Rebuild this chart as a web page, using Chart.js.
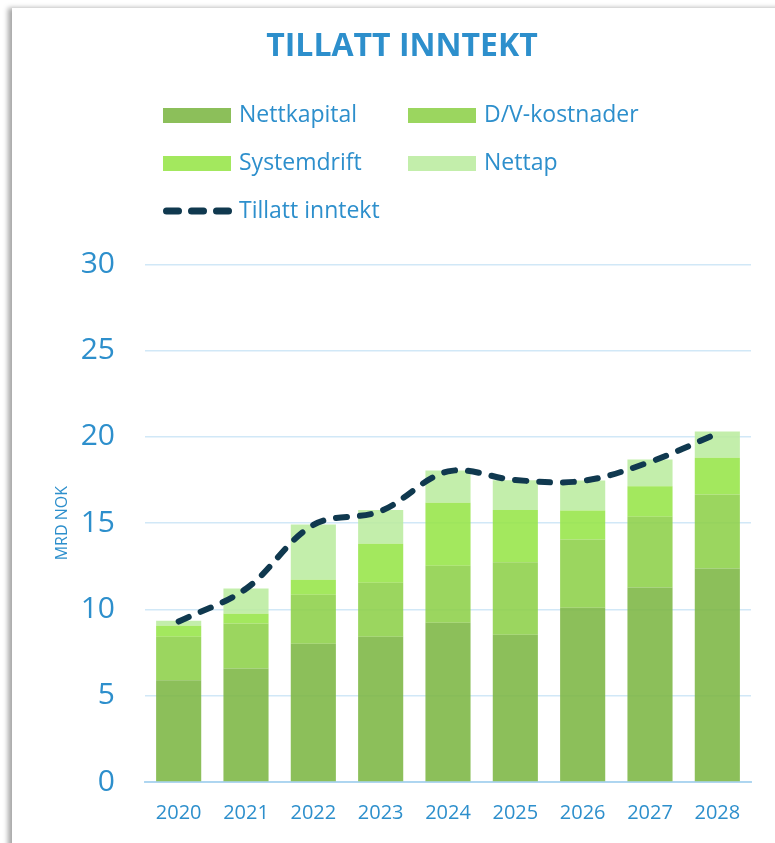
<!DOCTYPE html>
<html>
<head>
<meta charset="utf-8">
<script src="https://cdn.jsdelivr.net/npm/chart.js@4.4.1/dist/chart.umd.min.js"></script>
<style>
  html, body { margin: 0; padding: 0; background: #fff; }
  #card { position: absolute; left: 12px; top: 8px; width: 800px; height: 900px; background: #fff; box-shadow: -4px 0 5px rgba(0,0,0,0.35); }
  #wrap { position: absolute; left: 0; top: 0; width: 775px; height: 843px; }
</style>
</head>
<body>
<div id="card"></div>
<div id="wrap"><canvas id="myChart"></canvas></div>
<script>
const years = ['2020', '2021', '2022', '2023', '2024', '2025', '2026', '2027', '2028'];
const nettkapital = [5.9, 6.58, 8.01, 8.42, 9.23, 8.53, 10.1, 11.28, 12.38];
const dvKostnader = [2.52, 2.61, 2.84, 3.13, 3.31, 4.2, 3.95, 4.1, 4.28];
const systemdrift = [0.63, 0.56, 0.87, 2.26, 3.65, 3.04, 1.68, 1.76, 2.14];
const nettap = [0.29, 1.47, 3.21, 1.96, 1.86, 1.72, 1.74, 1.55, 1.51];
const tillattInntekt = [9.3, 11.2, 14.9, 15.7, 18.0, 17.5, 17.45, 18.55, 20.2];
const yTicks = [0, 5, 10, 15, 20, 25, 30];

const blue = 'rgb(45, 143, 204)';
const navy = '#10394f';

// legend laid out in two columns, like the original
const gridLegend = {
  id: 'gridLegend',
  afterDraw(chart, args, opts) {
    const ctx = chart.ctx;
    ctx.save();
    ctx.font = '23px "Open Sans"';
    ctx.textBaseline = 'middle';
    chart.data.datasets.forEach((ds, i) => {
      const slot = opts.slots[i];
      const x = opts.cols[slot[0]];
      const y = opts.rows[slot[1]];
      if (ds.type === 'line') {
        ctx.strokeStyle = ds.borderColor;
        ctx.lineWidth = 7;
        ctx.lineCap = 'round';
        for (let k = 0; k < 3; k++) {
          ctx.beginPath();
          ctx.moveTo(x + 3.5 + k * 25, y);
          ctx.lineTo(x + 15.5 + k * 25, y);
          ctx.stroke();
        }
      } else {
        ctx.fillStyle = ds.backgroundColor;
        ctx.fillRect(x, y - 7.5, 68, 15);
      }
      ctx.fillStyle = blue;
      ctx.fillText(ds.label, x + 76, y);
    });
    ctx.restore();
  },
};

const data = {
  labels: years,
  datasets: [
    { type: 'line', label: 'Tillatt inntekt', data: tillattInntekt, borderColor: navy, borderWidth: 6,
      borderDash: [11, 13], borderCapStyle: 'round', tension: 0.35, pointRadius: 0, fill: false, stack: 'total', order: 0 },
    { label: 'Nettkapital', data: nettkapital, backgroundColor: 'rgba(128, 184, 72, 0.9)', stack: 'cost', order: 1 },
    { label: 'D/V-kostnader', data: dvKostnader, backgroundColor: 'rgba(144, 209, 78, 0.9)', stack: 'cost', order: 1 },
    { label: 'Systemdrift', data: systemdrift, backgroundColor: 'rgba(153, 230, 76, 0.9)', stack: 'cost', order: 1 },
    { label: 'Nettap', data: nettap, backgroundColor: 'rgba(188, 236, 162, 0.9)', stack: 'cost', order: 1 },
  ],
};
data.datasets.slice(1).forEach(ds => {
  ds.barPercentage = 0.67;
  ds.categoryPercentage = 1;
  ds.borderWidth = 0;
});

const config = {
  type: 'bar',
  data: data,
  options: {
    responsive: true,
    maintainAspectRatio: false,
    animation: false,
    layout: { padding: { left: 53, right: 24, bottom: 21 } },
    scales: {
      x: {
        stacked: true,
        afterFit: (scale) => { scale.height = 40; },
        grid: { display: false },
        border: { color: 'rgba(170, 212, 240, 0.9)', width: 2 },
        ticks: { color: blue, font: { family: 'Open Sans', size: 20 }, padding: 11 },
      },
      y: {
        stacked: true,
        min: 0,
        max: 30,
        afterFit: (scale) => { scale.width = 92; },
        afterBuildTicks: (scale) => { scale.ticks = yTicks.map(v => ({ value: v })); },
        grid: { color: 'rgba(189, 222, 243, 0.7)', lineWidth: 1.5, drawTicks: false },
        border: { display: false },
        ticks: { color: blue, font: { family: 'Open Sans', size: 30 }, padding: 30 },
        title: { display: true, text: 'MRD NOK', color: blue, font: { family: 'Open Sans', size: 16 }, padding: { top: 0, bottom: 4 } },
      },
    },
    plugins: {
      legend: { display: false },
      tooltip: { enabled: false },
      title: {
        display: true,
        text: 'TILLATT INNTEKT',
        color: blue,
        font: { family: 'Open Sans', size: 32, weight: 'bold' },
        padding: { top: 28, bottom: 198 },
      },
      gridLegend: {
        cols: [163, 408],
        rows: [115.5, 163.5, 211],
        slots: [[0, 2], [0, 0], [1, 0], [0, 1], [1, 1]],
      },
    },
  },
  plugins: [gridLegend],
};

const myChart = new Chart(document.getElementById('myChart'), config);
</script>
</body>
</html>
